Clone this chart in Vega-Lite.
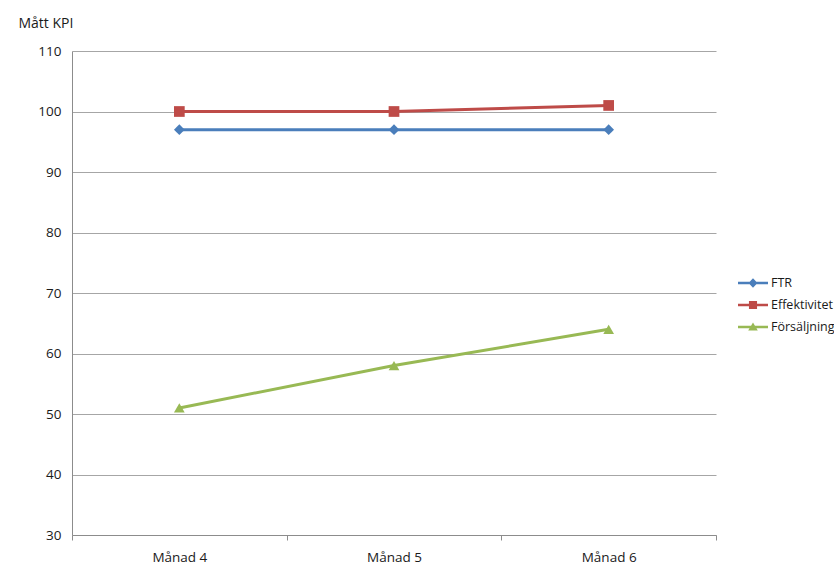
{
  "$schema": "https://vega.github.io/schema/vega-lite/v6.json",
  "width": 644,
  "height": 484,
  "autosize": "none",
  "padding": {"left": 72, "top": 51, "right": 118, "bottom": 32},
  "background": "white",
  "config": {
    "view": {"stroke": null},
    "font": "Open Sans"
  },
  "data": {
    "values": [
      {"manad": "Månad 4", "serie": "FTR", "varde": 97},
      {"manad": "Månad 5", "serie": "FTR", "varde": 97},
      {"manad": "Månad 6", "serie": "FTR", "varde": 97},
      {"manad": "Månad 4", "serie": "Effektivitet", "varde": 100},
      {"manad": "Månad 5", "serie": "Effektivitet", "varde": 100},
      {"manad": "Månad 6", "serie": "Effektivitet", "varde": 101},
      {"manad": "Månad 4", "serie": "Försäljning", "varde": 51},
      {"manad": "Månad 5", "serie": "Försäljning", "varde": 58},
      {"manad": "Månad 6", "serie": "Försäljning", "varde": 64}
    ]
  },
  "encoding": {
    "x": {
      "field": "manad",
      "type": "nominal",
      "sort": ["Månad 4", "Månad 5", "Månad 6"],
      "scale": {"type": "band", "paddingInner": 0, "paddingOuter": 0},
      "axis": {
        "title": null,
        "labelAngle": 0,
        "tickBand": "extent",
        "grid": false,
        "domainColor": "#8c8c8c",
        "tickColor": "#8c8c8c",
        "tickSize": 5,
        "labelPadding": 10,
        "labelFontSize": 13.5,
        "labelColor": "#1a1a1a",
        "labelBaseline": "top"
      }
    },
    "y": {
      "field": "varde",
      "type": "quantitative",
      "scale": {"domain": [30, 110], "nice": false, "zero": false},
      "axis": {
        "values": [30, 40, 50, 60, 70, 80, 90, 100, 110],
        "ticks": false,
        "domainColor": "#8c8c8c",
        "gridColor": "#a6a6a6",
        "labelPadding": 11,
        "labelFontSize": 13.5,
        "labelColor": "#1a1a1a",
        "title": "Mått KPI",
        "titleAngle": 0,
        "titleX": -54,
        "titleY": -24,
        "titleAlign": "left",
        "titleBaseline": "alphabetic",
        "titleFontSize": 14,
        "titleFontWeight": "normal",
        "titleColor": "#1a1a1a"
      }
    },
    "color": {
      "field": "serie",
      "type": "nominal",
      "scale": {
        "domain": ["FTR", "Effektivitet", "Försäljning"],
        "range": ["#4A7EBB", "#BE4B48", "#98B954"]
      }
    }
  },
  "layer": [
    {
      "mark": {"type": "line", "strokeWidth": 3},
      "encoding": {
        "color": {"field": "serie", "type": "nominal", "legend": null}
      }
    },
    {
      "mark": {"type": "point", "filled": true, "opacity": 1, "size": 115},
      "encoding": {
        "color": {"field": "serie", "type": "nominal", "legend": null},
        "shape": {
          "field": "serie",
          "type": "nominal",
          "scale": {
            "domain": ["FTR", "Effektivitet", "Försäljning"],
            "range": ["diamond", "square", "triangle-up"]
          },
          "legend": null
        }
      }
    },
    {
      "transform": [{"filter": "false"}],
      "mark": {"type": "point", "filled": true, "opacity": 1},
      "encoding": {
        "color": {
          "field": "serie",
          "type": "nominal",
          "legend": {
            "title": null,
            "orient": "none",
            "legendX": 666,
            "legendY": 217,
            "symbolSize": 900,
            "symbolStrokeWidth": 0,
            "symbolOpacity": 1,
            "rowPadding": 0,
            "labelOffset": 3,
            "labelFontSize": 12.5,
            "labelColor": "#1a1a1a"
          }
        },
        "shape": {
          "field": "serie",
          "type": "nominal",
          "scale": {
            "domain": ["FTR", "Effektivitet", "Försäljning"],
            "range": [
              "M-1,-0.08 L1,-0.08 L1,0.08 L-1,0.08 Z M0,-0.32 L0.3,0 L0,0.32 L-0.3,0 Z",
              "M-1,-0.08 L1,-0.08 L1,0.08 L-1,0.08 Z M-0.27,-0.27 L0.27,-0.27 L0.27,0.27 L-0.27,0.27 Z",
              "M-1,-0.08 L1,-0.08 L1,0.08 L-1,0.08 Z M0,-0.3 L0.32,0.24 L-0.32,0.24 Z"
            ]
          },
          "legend": {
            "title": null,
            "orient": "none",
            "legendX": 666,
            "legendY": 217,
            "symbolSize": 900,
            "symbolStrokeWidth": 0,
            "symbolOpacity": 1,
            "rowPadding": 0,
            "labelOffset": 3,
            "labelFontSize": 12.5,
            "labelColor": "#1a1a1a"
          }
        }
      }
    }
  ],
  "resolve": {
    "scale": {"shape": "independent"},
    "legend": {"color": "independent", "shape": "independent"}
  }
}
